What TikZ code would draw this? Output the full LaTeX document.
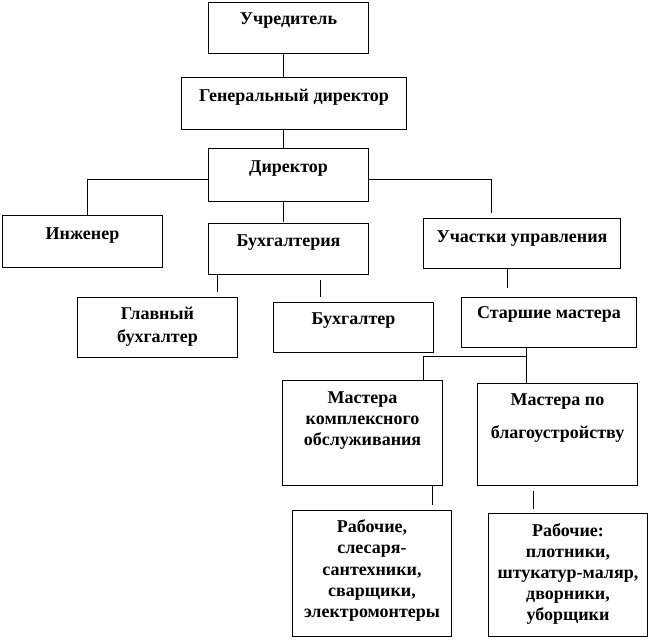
\documentclass[tikz,border=0pt]{standalone}
\usepackage{fontspec}
\setmainfont{Liberation Serif}

% 1 пиксель рисунка
\newdimen\px \px=0.75pt
% ячейка: ширина, высота, первая базовая линия, интервал, текст
\newcommand{\cell}[5]{\parbox[c][#2\px][t]{#1\px}{\centering\baselineskip=#4\px\rule{0pt}{#3\px}#5\par}}

\tikzset{
  block/.style={draw, line width=0.75pt, inner sep=0pt, anchor=north west,
    font=\fontsize{13.5}{16}\selectfont\bfseries},
  link/.style={line width=0.75pt}
}

\begin{document}
\begin{tikzpicture}[x=0.75pt, y=-0.75pt]
  \useasboundingbox (0,0) rectangle (650,641);

  % Блоки схемы
  \node[block] (uch) at (208,2) {\cell{160}{51}{22}{21}{Учредитель}};
  \node[block] (gen) at (181,77) {\cell{225}{52}{24}{21}{Генеральный директор}};
  \node[block] (dir) at (208,148) {\cell{160}{53}{24}{21}{Директор}};
  \node[block] (ing) at (2,215) {\cell{160}{52}{24}{21}{Инженер}};
  \node[block] (buh) at (208,223) {\cell{160}{51}{23}{21}{Бухгалтерия}};
  \node[block] (uchastki) at (423,218) {\cell{197}{50}{24}{21}{Участки управления}};
  \node[block] (glav) at (77,297) {\cell{160}{60}{22}{23}{Главный\\бухгалтер}};
  \node[block] (buhg) at (273,302) {\cell{160}{50}{22}{21}{Бухгалтер}};
  \node[block] (star) at (461,297) {\cell{175}{50}{21}{21}{Старшие мастера}};
  \node[block] (mk) at (282,380) {\cell{160}{105}{23}{21}{Мастера\\комплексного\\обслуживания}};
  \node[block] (mb) at (477,383) {\cell{160}{102}{22}{33}{Мастера по\\благоустройству}};
  \node[block] (rab1) at (292,510) {\cell{159}{126}{22}{21.3}{Рабочие,\\слесаря-\\сантехники,\\сварщики,\\электромонтеры}};
  \node[block] (rab2) at (488,513) {\cell{159}{123}{23}{21}{Рабочие:\\плотники,\\штукатур-маляр,\\дворники,\\уборщики}};

  % Связи
  \draw[link] (283,0 |- uch.south) -- (283,0 |- gen.north);
  \draw[link] (283,0 |- gen.south) -- (283,0 |- dir.north);
  \draw[link, shorten >=1pt] (283,0 |- dir.south) -- (283,0 |- buh.north);
  \draw[link] (dir.west |- 0,180) -- (87,180) -- (87,0 |- ing.north);
  \draw[link, shorten >=3.75pt] (dir.east |- 0,180) -- (491,180) -- (491,0 |- uchastki.north);
  \draw[link, shorten >=3.75pt] (217,0 |- buh.south) -- (217,0 |- glav.north);
  \draw[link, shorten <=3.75pt, shorten >=3.75pt] (320,0 |- buh.south) -- (320,0 |- buhg.north);
  \draw[link, shorten >=6.75pt] (507,0 |- uchastki.south) -- (507,0 |- star.north);
  \coordinate (razv) at (526,357);
  \draw[link] (526,0 |- star.south) -- (razv) -- (423,357) -- (423,0 |- mk.north);
  \draw[link] (razv) -- (526,0 |- mb.north);
  \draw[link, shorten >=3.75pt] (432,0 |- mk.south) -- (432,0 |- rab1.north);
  \draw[link, shorten <=3.75pt, shorten >=3pt] (533,0 |- mb.south) -- (533,0 |- rab2.north);
\end{tikzpicture}
\end{document}
